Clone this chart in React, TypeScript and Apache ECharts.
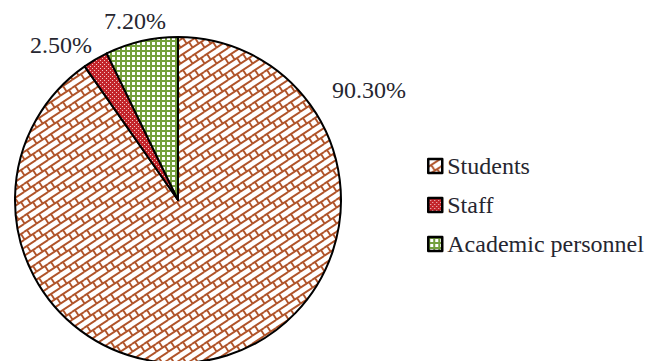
import React, { useEffect, useRef } from "react";
import * as echarts from "echarts";

const categories = ["Students", "Staff", "Academic personnel"];
const values = [90.3, 2.5, 7.2];
const labelTexts = ["90.30%", "2.50%", "7.20%"];

const FONT = "'Liberation Serif', 'Times New Roman', serif";

function makeBrick(): HTMLCanvasElement {
  const c = document.createElement("canvas");
  c.width = 12;
  c.height = 16;
  const g = c.getContext("2d")!;
  g.fillStyle = "#ffffff";
  g.fillRect(0, 0, 12, 16);
  g.strokeStyle = "#b0542a";
  g.lineWidth = 1.9;
  for (const dx of [-12, 0, 12]) {
    for (const dy of [-16, 0, 16]) {
      g.beginPath();
      g.moveTo(dx, dy + 8);
      g.lineTo(dx + 12, dy);
      g.moveTo(dx, dy + 16);
      g.lineTo(dx + 12, dy + 8);
      g.moveTo(dx + 3, dy + 6);
      g.lineTo(dx + 6.6, dy + 11.6);
      g.moveTo(dx + 9, dy + 10);
      g.lineTo(dx + 12.6, dy + 15.6);
      g.stroke();
    }
  }
  return c;
}

function makeDots(): HTMLCanvasElement {
  const c = document.createElement("canvas");
  c.width = 4;
  c.height = 4;
  const g = c.getContext("2d")!;
  g.fillStyle = "#c3252b";
  g.fillRect(0, 0, 4, 4);
  g.fillStyle = "#f2c9c9";
  g.fillRect(0, 0, 1, 1);
  g.fillRect(2, 2, 1, 1);
  return c;
}

function makeGrid(): HTMLCanvasElement {
  const c = document.createElement("canvas");
  c.width = 5;
  c.height = 5;
  const g = c.getContext("2d")!;
  g.fillStyle = "#74a03c";
  g.fillRect(0, 0, 5, 5);
  g.fillStyle = "#ffffff";
  g.fillRect(2, 2, 3, 3);
  return c;
}

const labelPos = [
  [369, 90],
  [61, 45],
  [135, 21],
];

export default function App() {
  const ref = useRef<HTMLDivElement>(null);
  useEffect(() => {
    document.body.style.margin = "0";
    const chart = echarts.init(ref.current!, undefined, { renderer: "svg" });
    const patterns = [makeBrick(), makeDots(), makeGrid()];
    const data = categories.map((name, i) => ({
      name,
      value: values[i],
      itemStyle: { color: { image: patterns[i], repeat: "repeat" } as any },
      label: { formatter: labelTexts[i] },
    }));
    const legendText = {
      fontFamily: FONT,
      fontSize: 24,
      color: "#262630",
      lineHeight: 24,
    };
    chart.setOption({
      animation: false,
      backgroundColor: "#ffffff",
      textStyle: { fontFamily: FONT },
      legend: {
        orient: "vertical",
        left: 427,
        top: 154,
        padding: 0,
        itemWidth: 14,
        itemHeight: 14,
        itemGap: 15,
        icon: "rect",
        data: categories.map((name) => ({ name, textStyle: legendText })),
        textStyle: legendText,
        itemStyle: { borderColor: "#000", borderWidth: 2.5 },
      },
      series: [
        {
          type: "pie",
          center: [178, 200],
          radius: 163,
          startAngle: 90,
          clockwise: true,
          data,
          itemStyle: { borderColor: "#000000", borderWidth: 2 },
          label: {
            show: true,
            position: "inside",
            overflow: "none",
            fontFamily: FONT,
            fontSize: 24,
            color: "#262630",
          },
          labelLine: { show: false },
          labelLayout: (params: any) => ({
            x: labelPos[params.dataIndex][0],
            y: labelPos[params.dataIndex][1],
            align: "center",
            verticalAlign: "middle",
          }),
          emphasis: { disabled: true },
        },
      ],
    });
    return () => chart.dispose();
  }, []);
  return (
    <div
      ref={ref}
      style={{ position: "absolute", left: 0, top: 0, width: 654, height: 361 }}
    />
  );
}
